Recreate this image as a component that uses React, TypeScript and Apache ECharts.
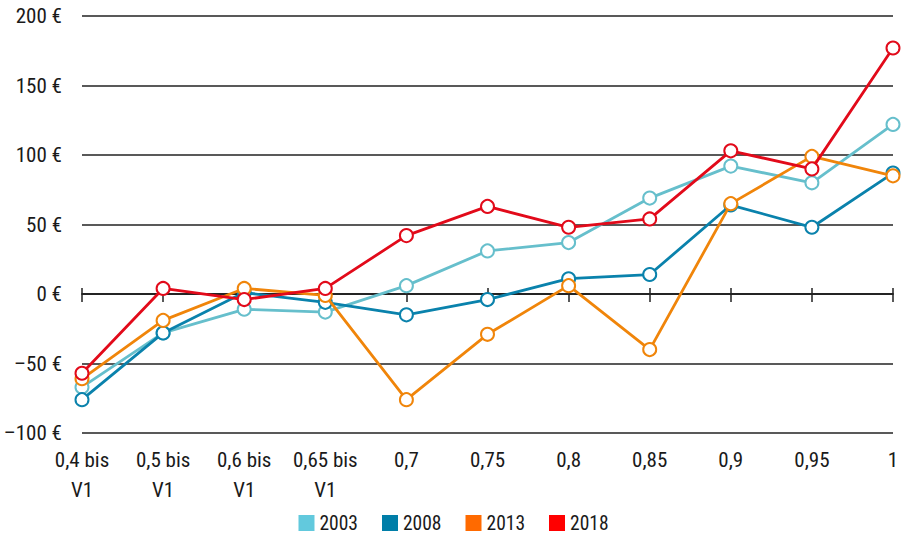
import React, { useEffect, useRef } from "react";
import * as echarts from "echarts";

const categories = ["0,4 bis\nV1", "0,5 bis\nV1", "0,6 bis\nV1", "0,65 bis\nV1", "0,7", "0,75", "0,8", "0,85", "0,9", "0,95", "1"];
const s2003 = [-67, -28, -11, -13, 6, 31, 37, 69, 92, 80, 122];
const s2008 = [-76, -28, 1, -6, -15, -4, 11, 14, 64, 48, 87];
const s2013 = [-61, -19, 4, -1, -76, -29, 6, -40, 65, 99, 85];
const s2018 = [-57, 4, -4, 4, 42, 63, 48, 54, 103, 90, 177];
const seriesNames = ["2003", "2008", "2013", "2018"];
const lineColors = ["#66BFCC", "#0A82AC", "#F0850A", "#E20A1A"];
const legendColors = ["#62C9DD", "#007EA8", "#FF6A00", "#FF0000"];
const yTicks = { min: -100, max: 200, interval: 50 };

const FONT = "'Roboto Condensed', 'Open Sans', sans-serif";

export default function App() {
  const ref = useRef<HTMLDivElement>(null);
  useEffect(() => {
    if (!ref.current) return;
    const chart = echarts.init(ref.current, undefined, { renderer: "svg" });
    const data = [s2003, s2008, s2013, s2018];
    chart.setOption({
      animation: false,
      backgroundColor: "#ffffff",
      textStyle: { fontFamily: FONT },
      grid: { left: 82, right: 14, top: 16, bottom: 103, containLabel: false, outerBoundsMode: "none" },
      legend: {
        top: 513,
        left: "center",
        padding: 0,
        itemWidth: 16,
        itemHeight: 16,
        itemGap: 24,
        icon: "rect",
        textStyle: { fontFamily: FONT, fontSize: 19.5, lineHeight: 18, color: "#1a1a1a" },
        data: seriesNames.map((n, i) => ({ name: n, itemStyle: { color: legendColors[i], borderWidth: 0 } })),
      },
      xAxis: [
        {
          type: "category",
          data: categories,
          boundaryGap: false,
          position: "bottom",
          axisLine: { show: false, onZero: false },
          axisTick: { show: false },
          axisLabel: { fontFamily: FONT, fontSize: 21, color: "#1a1a1a", lineHeight: 30, margin: 12, interval: 0 },
        },
        {
          type: "category",
          data: categories,
          boundaryGap: false,
          position: "bottom",
          axisLine: { show: true, onZero: true, onZeroAxisIndex: 0, lineStyle: { color: "#222", width: 1.5 } },
          axisTick: { show: true, length: 8, interval: 0, lineStyle: { color: "#222", width: 1.5 } },
          axisLabel: { show: false },
        },
        {
          type: "category",
          data: categories,
          boundaryGap: false,
          position: "top",
          axisLine: { show: true, onZero: true, onZeroAxisIndex: 1, lineStyle: { color: "#222", width: 1.5 } },
          axisTick: { show: true, length: 6, interval: 0, lineStyle: { color: "#222", width: 1.5 } },
          axisLabel: { show: false },
        },
      ],
      yAxis: [
        {
          type: "value",
          min: yTicks.min,
          max: yTicks.max,
          interval: yTicks.interval,
          axisLine: { show: false },
          axisTick: { show: false },
          splitLine: { lineStyle: { color: "#222", width: 1.5 } },
          axisLabel: {
            fontFamily: FONT,
            fontSize: 21,
            color: "#1a1a1a",
            margin: 20,
            formatter: (v: number) => (v < 0 ? "–" + Math.abs(v) : String(v)) + " €",
          },
        },
        {
          type: "value",
          position: "right",
          min: yTicks.min,
          max: yTicks.max,
          interval: yTicks.interval,
          axisLine: { show: false },
          axisTick: { show: false },
          splitLine: { show: false },
          axisLabel: { show: false },
        },
      ],
      series: data.map((d, i) => ({
        name: seriesNames[i],
        type: "line",
        xAxisIndex: 0,
        yAxisIndex: 0,
        data: d,
        symbol: "emptyCircle",
        symbolSize: 13,
        lineStyle: { color: lineColors[i], width: 2.8 },
        itemStyle: { color: lineColors[i], borderColor: lineColors[i], borderWidth: 2.6 },
        z: 2 + i,
      })),
    });
    return () => chart.dispose();
  }, []);
  return <div ref={ref} style={{ width: 907, height: 536, position: "absolute", left: 0, top: 0 }} />;
}
